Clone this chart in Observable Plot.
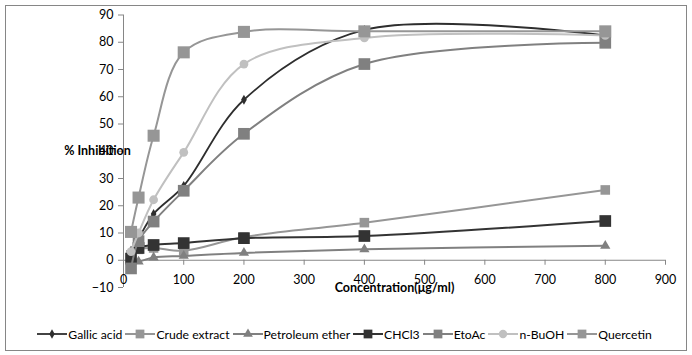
<!DOCTYPE html>
<html><head><meta charset="utf-8">
<script src="https://cdn.jsdelivr.net/npm/d3@7"></script>
<script src="https://cdn.jsdelivr.net/npm/@observablehq/plot@0.6"></script>
<style>
body{margin:0;background:#fff;font-family:Lato,"DejaVu Sans",sans-serif;}
#chart{position:absolute;left:5px;top:5px;width:682px;height:346px;border:1px solid #868686;box-sizing:border-box;background:#fff;}
#plot{position:absolute;left:0;top:0;}
#legend{position:absolute;left:0;right:0;top:320px;height:16px;display:flex;justify-content:center;align-items:center;font-size:12.2px;color:#000;white-space:nowrap;}
.item{display:flex;align-items:center;margin-right:3px;}
.item svg{display:block;margin-right:1px;}
</style></head>
<body>
<div id="chart"><div id="plot"></div><div id="legend"></div></div>
<script>
// ---- data ----
const conc = [12.5, 25, 50, 100, 200, 400, 800];
const gallicAcid = [3.5, 8, 17, 27.3, 58.9, 84.5, 82.5];
const crudeExtract = [2, 4, 4.5, 3.5, 8.5, 13.8, 25.8];
const petroleumEther = [-1, -0.5, 1, 1.6, 2.7, 4, 5.3];
const chcl3 = [0.6, 4.5, 5.6, 6.3, 8.1, 8.9, 14.4];
const etoac = [-3, 7, 14.2, 25.5, 46.4, 72, 79.8];
const nBuOH = [3.2, 10, 22.2, 39.6, 72, 81.6, 82.5];
const quercetin = [10.4, 23, 45.7, 76.3, 83.8, 84, 84];
const seriesNames = ["Gallic acid", "Crude extract", "Petroleum ether", "CHCl3", "EtoAc", "n-BuOH", "Quercetin"];
const seriesValues = [gallicAcid, crudeExtract, petroleumEther, chcl3, etoac, nBuOH, quercetin];
const xTicks = [0, 100, 200, 300, 400, 500, 600, 700, 800, 900];
const yTicks = [-10, 0, 10, 20, 30, 40, 50, 60, 70, 80, 90];
const xLabel = "Concentration(μg/ml)";
const yLabel = "% Inhibition";

// ---- styles ----
const styles = [
  {color: "#2e2e2e", symbol: "diamond", r: 3, w: 1.8},
  {color: "#969696", symbol: "square", r: 5.4, w: 2},
  {color: "#808080", symbol: "triangle", r: 3.8, w: 2},
  {color: "#333333", symbol: "square", r: 6.6, w: 2},
  {color: "#808080", symbol: "square", r: 6.6, w: 2},
  {color: "#C0C0C0", symbol: "circle", r: 4.4, w: 2},
  {color: "#969696", symbol: "square", r: 6.8, w: 2}
];

const marks = [];
marks.push(Plot.ruleY([0], {stroke: "#868686"}));
marks.push(Plot.ruleX([0], {stroke: "#868686"}));
marks.push(Plot.ruleX(xTicks, {x: d => d, y1: 0, y2: 0, insetBottom: -5, stroke: "#868686"}));
marks.push(Plot.axisY(yTicks, {tickSize: 5, tickPadding: 5, stroke: "#868686", fill: "#000", label: null, fontSize: 12.5}));
marks.push(Plot.text(xTicks, {x: d => d, y: 0, dy: 20, text: d => String(d), lineAnchor: "middle", fill: "#000", fontSize: 12.5}));
seriesValues.forEach((vals, k) => {
  const rows = conc.map((c, i) => ({c, v: vals[i]}));
  const s = styles[k];
  marks.push(Plot.line(rows, {x: "c", y: "v", stroke: s.color, strokeWidth: s.w, curve: "catmull-rom"}));
  marks.push(Plot.dot(rows, {x: "c", y: "v", symbol: s.symbol, r: s.r, fill: s.color, stroke: "none"}));
});
marks.push(Plot.text([yLabel], {text: d => d, frameAnchor: "left", dx: -26, textAnchor: "middle", fontWeight: "bold", fontSize: 12.5, fill: "#000"}));
marks.push(Plot.text([xLabel], {text: d => d, frameAnchor: "bottom", lineAnchor: "middle", fontWeight: "bold", fontSize: 12.5, fill: "#000"}));

const chart = Plot.plot({
  width: 680, height: 300,
  marginLeft: 117, marginRight: 21, marginTop: 8.5, marginBottom: 19,
  x: {domain: [0, 900], axis: null},
  y: {domain: [-10, 90]},
  style: {fontFamily: "Lato, 'DejaVu Sans', sans-serif", fontSize: "12.5px", background: "transparent", overflow: "visible"},
  marks
});
document.getElementById("plot").appendChild(chart);

// ---- legend ----
const legend = d3.select("#legend");
seriesNames.forEach((name, k) => {
  const s = styles[k];
  const it = legend.append("div").attr("class", "item");
  const svg = it.append("svg").attr("width", 30).attr("height", 14);
  svg.append("line").attr("x1", 0).attr("x2", 30).attr("y1", 7).attr("y2", 7).attr("stroke", s.color).attr("stroke-width", s.w);
  const symMap = {diamond: d3.symbolDiamond, square: d3.symbolSquare, triangle: d3.symbolTriangle, circle: d3.symbolCircle};
  const rr = Math.min(s.r, 5.2) * 0.95;
  svg.append("path").attr("transform", "translate(15,7)").attr("fill", s.color)
    .attr("d", d3.symbol(symMap[s.symbol], Math.PI * rr * rr)());
  it.append("span").text(name);
});
</script>
</body></html>
